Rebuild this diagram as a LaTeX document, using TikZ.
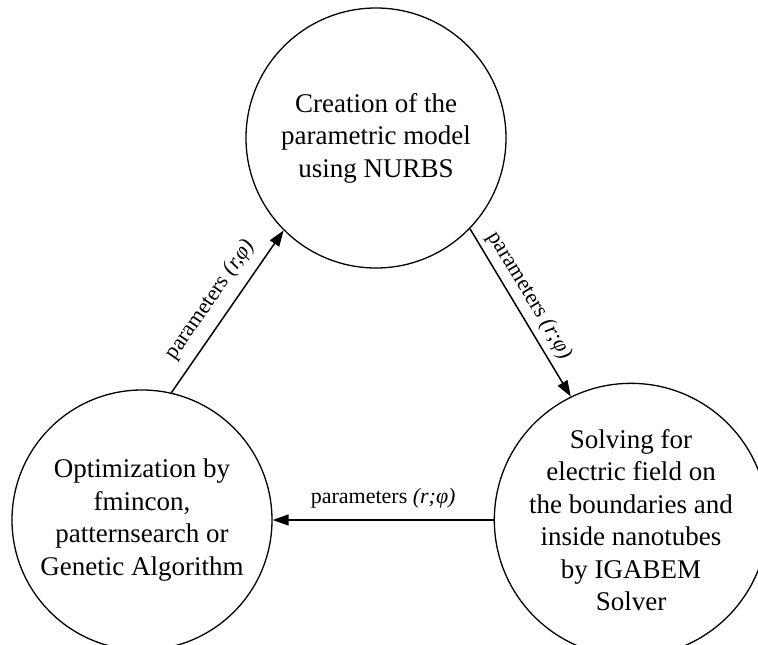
\documentclass[tikz,border=0pt]{standalone}
\usepackage{fontspec}
\setmainfont{Liberation Serif}
\usetikzlibrary{arrows.meta}
\tikzset{
  stage/.style={draw, circle, line width=1.3pt, inner sep=0pt, align=center,
    font=\fontsize{27}{32.5}\selectfont},
  arr/.style={line width=1.5pt, -{Triangle[length=16pt,width=11pt]}},
  lab/.style={font=\fontsize{22}{26}\selectfont, inner sep=2pt}
}
\begin{document}
\begin{tikzpicture}[x=1pt,y=-1pt]
\useasboundingbox (0,0) rectangle (758,645);
\node[stage, minimum size=260pt] (t) at (376,138) {Creation of the\\parametric model\\using NURBS};
\node[stage, minimum size=260pt] (l) at (142,520) {Optimization by\\fmincon,\\patternsearch or\\Genetic Algorithm};
\node[stage, minimum size=252pt] (r) at (631,520) {Solving for\\electric field on\\the boundaries and\\inside nanotubes\\by IGABEM\\Solver};
\draw[arr] (l.77) -- node[lab, sloped, above=8pt] (la) {parameters \textit{(r,φ)}} (t.225);
\draw[arr] (t.316) -- node[lab, sloped, above=4pt, pos=0.45] (ra) {parameters \textit{(r;φ)}} (r.116);
\draw[arr] (r.west) -- node[lab, above=9pt] (ha) {parameters \textit{(r;φ)}} (l.east);
\end{tikzpicture}
\end{document}
